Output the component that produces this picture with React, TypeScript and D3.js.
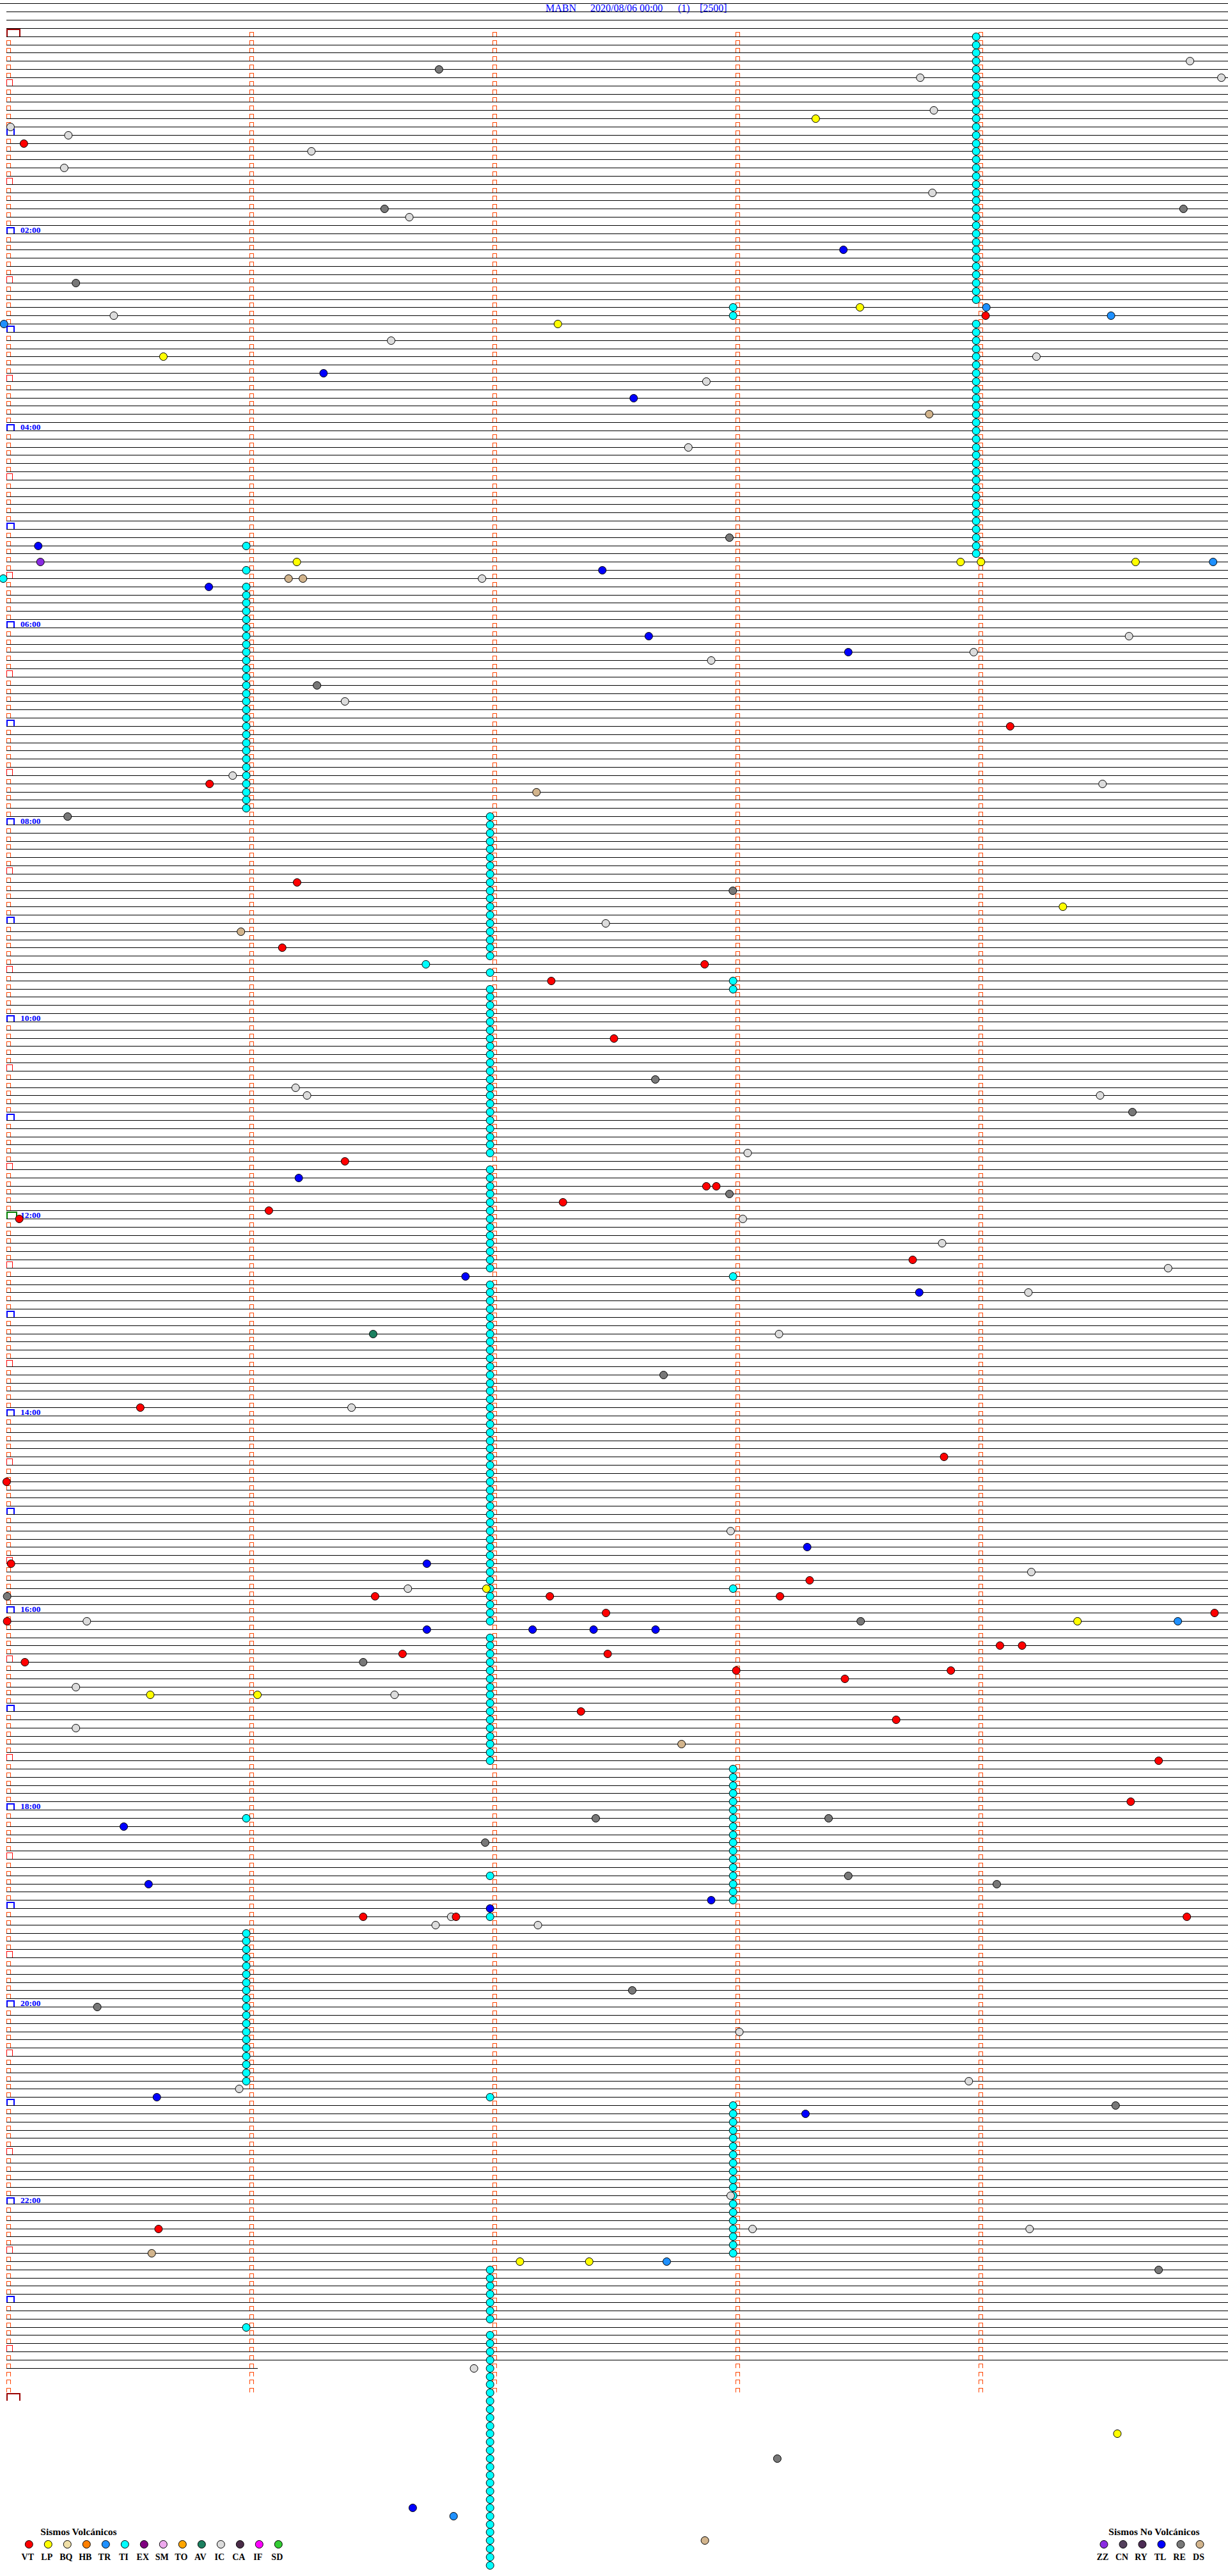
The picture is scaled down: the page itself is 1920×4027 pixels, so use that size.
import React, { useEffect, useRef } from 'react'
import * as d3 from 'd3'

const WIDTH = 1920
const HEIGHT = 4027
const SERIF = '"Liberation Serif", "Times New Roman", serif'

// drum geometry: each trace line is 5 minutes, markers every minute
const FIRST_TRACE = -4
const LAST_TRACE = 284
const LAST_TRACE_END = 1.034 // minutes into the last line where the trace stops
const LAST_MARKER_LINE = 287
const END_LINE = 288

const titleParts = [
  { text: 'MABN', x: 853 },
  { text: '2020/08/06 00:00', x: 923 },
  { text: '(1)', x: 1060 },
  { text: '[2500]', x: 1094 },
]

const hourLabels = ['02:00', '04:00', '06:00', '08:00', '10:00', '12:00', '14:00', '16:00', '18:00', '20:00', '22:00']

// events as [line, minute within the line]
const vtEvents: [number, number][] = [
  [13, 0.072], [34, 4.029], [84, 4.13], [91, 0.836], [103, 1.196], [111, 1.135], [113, 2.873],
  [115, 2.242], [122, 2.5], [137, 1.393], [140, 2.88], [140, 2.921], [142, 2.29], [143, 1.08],
  [144, 0.053], [149, 3.729], [167, 0.551], [173, 3.858], [176, 0.001], [186, 0.019], [188, 3.305],
  [190, 1.517], [190, 2.236], [190, 3.183], [192, 2.467], [192, 4.971], [193, 0.003], [196, 4.088],
  [196, 4.179], [197, 1.63], [197, 2.474], [198, 0.076], [199, 3.003], [199, 3.886], [200, 3.45],
  [204, 2.364], [205, 3.661], [210, 4.741], [215, 4.626], [229, 1.468], [229, 1.85], [229, 4.857],
  [267, 0.626],
]

const lpEvents: [number, number][] = [
  [10, 3.33], [33, 3.512], [35, 2.269], [39, 0.646], [64, 1.195], [64, 3.926], [64, 4.01],
  [64, 4.646], [106, 4.347], [189, 1.975], [193, 4.407], [202, 0.592], [202, 1.033], [271, 2.113],
  [271, 2.398], [292, 4.571],
]

const trEvents: [number, number][] = [
  [33, 4.032], [34, 4.545], [35, -0.01], [64, 4.965], [193, 4.82], [271, 2.717], [302, 1.84],
]

const icEvents: [number, number][] = [
  [3, 4.87], [5, 3.76], [5, 4.999], [9, 3.816], [11, 0.017], [12, 0.255], [14, 1.255], [16, 0.238],
  [19, 3.81], [22, 1.658], [34, 0.442], [37, 1.583], [39, 4.238], [42, 2.88], [50, 2.806],
  [66, 1.957], [73, 4.619], [75, 3.98], [76, 2.9], [81, 1.393], [90, 0.931], [91, 4.51],
  [108, 2.466], [128, 1.19], [129, 1.237], [129, 4.5], [136, 3.05], [144, 3.03], [147, 3.85],
  [150, 4.78], [153, 4.205], [158, 3.179], [167, 1.42], [182, 2.98], [187, 4.217], [189, 1.652],
  [193, 0.331], [201, 0.286], [202, 1.597], [206, 0.286], [229, 1.83], [230, 1.766], [230, 2.187],
  [243, 3.016], [249, 3.96], [250, 0.958], [263, 2.98], [267, 3.07], [267, 4.21], [284, 1.924],
]

const reEvents: [number, number][] = [
  [4, 1.78], [21, 1.556], [21, 4.843], [30, 0.286], [61, 2.975], [79, 1.278], [95, 0.252],
  [104, 2.989], [127, 2.67], [131, 4.633], [141, 2.975], [163, 2.704], [190, 0.003], [193, 3.515],
  [198, 1.468], [217, 2.425], [217, 3.383], [220, 1.97], [224, 3.464], [225, 4.075], [238, 2.575],
  [240, 0.374], [252, 4.564], [272, 4.741], [295, 3.172],
]

const tlEvents: [number, number][] = [
  [26, 3.444], [41, 1.305], [44, 2.581], [62, 0.131], [65, 2.452], [67, 0.833], [73, 2.643],
  [75, 3.464], [139, 1.203], [151, 1.889], [153, 3.756], [184, 3.295], [186, 1.73], [194, 1.73],
  [194, 2.165], [194, 2.416], [194, 2.671], [218, 0.483], [225, 0.585], [227, 2.9], [228, 1.99],
  [251, 0.619], [253, 3.288], [301, 1.672],
]

const zzEvents: [number, number][] = [[64, 0.14]]

const dsEvents: [number, number][] = [
  [46, 3.797], [66, 1.161], [66, 1.22], [92, 2.181], [109, 0.965], [208, 2.778], [270, 0.598],
  [305, 2.874],
]

const avEvents: [number, number][] = [[158, 1.509]]

// tremor (TI) runs: the lines where a TI sits at the same minute
const tiLinesAt399 = [
  0, 1, 2, 3, 4, 5, 6, 7, 8, 9, 10, 11, 12, 13, 14, 15, 16, 17, 18, 19, 20, 21, 22, 23, 24, 25,
  26, 27, 28, 29, 30, 31, 32, 35, 36, 37, 38, 39, 40, 41, 42, 43, 44, 45, 46, 47, 48, 49, 50, 51,
  52, 53, 54, 55, 56, 57, 58, 59, 60, 61, 62, 63,
]
const tiLinesAt099 = [
  62, 65, 67, 68, 69, 70, 71, 72, 73, 74, 75, 76, 77, 78, 79, 80, 81, 82, 83, 84, 85, 86, 87, 88,
  89, 90, 91, 92, 93, 94, 217, 231, 232, 233, 234, 235, 236, 237, 238, 239, 240, 241, 242, 243,
  244, 245, 246, 247, 248, 249, 279,
]
const tiLinesAt000 = [66]
const tiLinesAt199 = [
  95, 96, 97, 98, 99, 100, 101, 102, 103, 104, 105, 106, 107, 108, 109, 110, 111, 112, 114, 116,
  117, 118, 119, 120, 121, 122, 123, 124, 125, 126, 127, 128, 129, 130, 131, 132, 133, 134, 135,
  136, 138, 139, 140, 141, 142, 143, 144, 145, 146, 147, 148, 149, 150, 152, 153, 154, 155, 156,
  157, 158, 159, 160, 161, 162, 163, 164, 165, 166, 167, 168, 169, 170, 171, 172, 173, 174, 175,
  176, 177, 178, 179, 180, 181, 182, 183, 184, 185, 186, 187, 188, 189, 190, 191, 192, 193, 195,
  196, 197, 198, 199, 200, 201, 202, 203, 204, 205, 206, 207, 208, 209, 210, 224, 229, 251, 272,
  273, 274, 275, 276, 277, 278, 280, 281, 282, 283, 284, 285, 286, 287, 288, 289, 290, 291, 292,
  293, 294, 295, 296, 297, 298, 299, 300, 301, 302, 303, 304, 305, 306, 307, 308,
]
const tiLinesAt173 = [113]
const tiLinesAt300 = [
  33, 34, 115, 116, 151, 189, 211, 212, 213, 214, 215, 216, 217, 218, 219, 220, 221, 222, 223,
  224, 225, 226, 227, 252, 253, 254, 255, 256, 257, 258, 259, 260, 261, 262, 263, 264, 265, 266,
  267, 268, 269, 270,
]

const volcanicTypes = ['VT', 'LP', 'BQ', 'HB', 'TR', 'TI', 'EX', 'SM', 'TO', 'AV', 'IC', 'CA', 'IF', 'SD']
const nonVolcanicTypes = ['ZZ', 'CN', 'RY', 'TL', 'RE', 'DS']

const typeColors: Record<string, string> = {
  VT: '#ff0000', LP: '#ffff00', BQ: '#f0e0a8', HB: '#ff8000', TR: '#1e90ff', TI: '#00ffff',
  EX: '#800080', SM: '#eeaaee', TO: '#ffa500', AV: '#1c8060', IC: '#dcdcdc', CA: '#4a2c48',
  IF: '#ff00ff', SD: '#33cc33', ZZ: '#8a2be2', CN: '#54405c', RY: '#4c2c54', TL: '#0000ff',
  RE: '#787878', DS: '#d2b48c',
}

export default function App() {
  const svgRef = useRef<SVGSVGElement | null>(null)

  useEffect(() => {
    document.body.style.margin = '0'
    if (!svgRef.current) return
    const svg = d3.select(svgRef.current)
    svg.selectAll('*').remove()

    const x = d3.scaleLinear().domain([0, 5]).range([10, 1910])
    const y = d3.scaleLinear().domain([0, 284]).range([57.3, 3702.3])
    const py = (l: number) => Math.floor(y(l)) + 0.5

    svg.append('rect').attr('width', WIDTH).attr('height', HEIGHT).attr('fill', '#fff')

    // title
    const title = svg.append('text')
      .attr('y', 18)
      .attr('fill', '#0000ff')
      .attr('font-family', SERIF)
      .attr('font-size', 16)
    titleParts.forEach(p => title.append('tspan').attr('x', p.x).text(p.text))

    // trace lines
    svg.append('g')
      .attr('shape-rendering', 'crispEdges')
      .selectAll('line')
      .data(d3.range(FIRST_TRACE, LAST_TRACE + 1))
      .join('line')
      .attr('x1', d => (d === FIRST_TRACE ? 0 : x(0)))
      .attr('x2', d => (d === LAST_TRACE ? x(LAST_TRACE_END) : WIDTH))
      .attr('y1', d => py(d))
      .attr('y2', d => py(d))
      .attr('stroke', '#000')
      .attr('stroke-width', 1)

    // minute markers
    const markers: { line: number; minute: number }[] = []
    d3.range(0, LAST_MARKER_LINE + 1).forEach(line => {
      d3.range(0, 5).forEach(minute => markers.push({ line, minute }))
    })
    const markerStyle = (d: { line: number; minute: number }) => {
      if (d.minute === 0 && d.line === 0) return { w: 20, h: 11, c: '#990000', sw: 2 }
      if (d.minute === 0 && d.line === 144) return { w: 15, h: 10, c: '#008000', sw: 2 }
      if (d.minute === 0 && d.line % 12 === 0) return { w: 11, h: 9, c: '#0000ff', sw: 2 }
      if (d.minute === 0 && d.line % 6 === 0) return { w: 8.5, h: 9, c: '#ff0000', sw: 1 }
      return { w: 5.5, h: 6, c: '#ff4500', sw: 1 }
    }
    markers.push({ line: END_LINE, minute: -1 })
    svg.append('g')
      .selectAll('path')
      .data(markers)
      .join('path')
      .attr('d', d => {
        const s = d.minute === -1 ? { w: 20, h: 11 } : markerStyle(d)
        const mx = x(Math.max(d.minute, 0)) + 0.5
        const base = Math.floor(y(d.line)) - 0.5
        return `M${mx},${base} V${base - s.h} H${mx + s.w} V${base}`
      })
      .attr('fill', 'none')
      .attr('stroke', d => (d.minute === -1 ? '#990000' : markerStyle(d).c))
      .attr('stroke-width', d => (d.minute === -1 ? 2 : markerStyle(d).sw))
      .attr('shape-rendering', 'crispEdges')

    // hour labels
    svg.append('g')
      .selectAll('text')
      .data(hourLabels)
      .join('text')
      .attr('x', 32)
      .attr('y', d => Math.floor(y(+d.slice(0, 2) * 12)) - 1)
      .attr('fill', '#0000ff')
      .attr('font-family', SERIF)
      .attr('font-size', 13.5)
      .attr('font-weight', 'bold')
      .text(d => d)

    // events
    const tiEvents: [number, number][] = [
      ...tiLinesAt399.map(l => [l, 3.99] as [number, number]),
      ...tiLinesAt099.map(l => [l, 0.987] as [number, number]),
      ...tiLinesAt000.map(l => [l, -0.013] as [number, number]),
      ...tiLinesAt199.map(l => [l, 1.99] as [number, number]),
      ...tiLinesAt173.map(l => [l, 1.726] as [number, number]),
      ...tiLinesAt300.map(l => [l, 2.99] as [number, number]),
    ]
    const layers: [string, [number, number][]][] = [
      ['TI', tiEvents], ['IC', icEvents], ['RE', reEvents], ['DS', dsEvents], ['AV', avEvents],
      ['ZZ', zzEvents], ['TL', tlEvents], ['TR', trEvents], ['LP', lpEvents], ['VT', vtEvents],
    ]
    layers.forEach(([type, events]) => {
      svg.append('g')
        .selectAll('circle')
        .data(events)
        .join('circle')
        .attr('cx', d => x(d[1]))
        .attr('cy', d => py(d[0]))
        .attr('r', 6)
        .attr('fill', typeColors[type])
        .attr('stroke', '#000')
        .attr('stroke-width', 1)
    })

    // legends
    const legend = (types: string[], x0: number, titleX: number, label: string) => {
      const g = svg.append('g')
      g.append('text')
        .attr('x', titleX)
        .attr('y', 3963)
        .attr('font-family', SERIF)
        .attr('font-size', 15.5)
        .attr('font-weight', 'bold')
        .attr('fill', '#000')
        .text(label)
      const lx = d3.scalePoint<string>().domain(types).range([x0, x0 + 30 * (types.length - 1)])
      g.selectAll('circle')
        .data(types)
        .join('circle')
        .attr('cx', d => lx(d)!)
        .attr('cy', 3977.5)
        .attr('r', 6)
        .attr('fill', d => typeColors[d])
        .attr('stroke', '#000')
        .attr('stroke-width', 1)
      g.selectAll('text.lbl')
        .data(types)
        .join('text')
        .attr('class', 'lbl')
        .attr('x', d => lx(d)! - 2)
        .attr('y', 4002)
        .attr('text-anchor', 'middle')
        .attr('font-family', SERIF)
        .attr('font-size', 14)
        .attr('font-weight', 'bold')
        .attr('fill', '#000')
        .text(d => d)
    }
    legend(volcanicTypes, 45.3, 63.3, 'Sismos Volcánicos')
    legend(nonVolcanicTypes, 1726, 1733.3, 'Sismos No Volcánicos')
  }, [])

  return (
    <svg
      ref={svgRef}
      width={WIDTH}
      height={HEIGHT}
      style={{ display: 'block', background: '#fff' }}
    />
  )
}
